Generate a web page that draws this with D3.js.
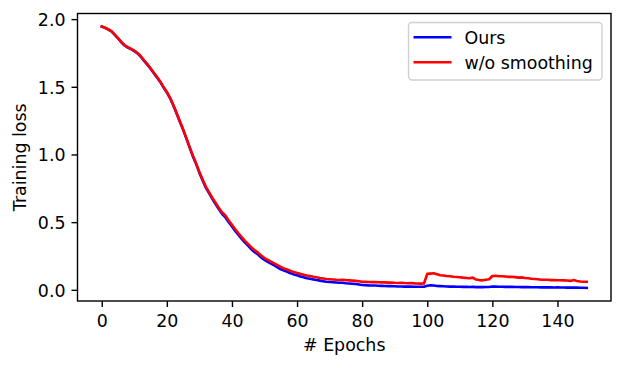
<!DOCTYPE html>
<html>
<head>
<meta charset="utf-8">
<script src="https://cdn.jsdelivr.net/npm/d3@7/dist/d3.min.js"></script>
<style>
  html, body { margin: 0; padding: 0; background: #fff; }
  svg { display: block; font-family: "DejaVu Sans", sans-serif; }
</style>
</head>
<body>
<svg id="chart" width="624" height="368"></svg>
<script>
const epochs = d3.range(0, 150);

const oursLoss = [
  1.945, 1.935, 1.923, 1.909, 1.884, 1.857, 1.829, 1.805, 1.790, 1.778,
  1.764, 1.747, 1.722, 1.692, 1.664, 1.633, 1.600, 1.568, 1.534, 1.494,
  1.458, 1.415, 1.362, 1.302, 1.242, 1.182, 1.117, 1.051, 0.986, 0.929,
  0.864, 0.808, 0.753, 0.712, 0.670, 0.632, 0.595, 0.560, 0.535, 0.500,
  0.468, 0.435, 0.405, 0.377, 0.349, 0.325, 0.298, 0.278, 0.261, 0.238,
  0.221, 0.207, 0.193, 0.180, 0.166, 0.152, 0.142, 0.133, 0.123, 0.114,
  0.107, 0.099, 0.093, 0.086, 0.082, 0.077, 0.072, 0.068, 0.064, 0.060,
  0.058, 0.056, 0.054, 0.052, 0.052, 0.049, 0.047, 0.045, 0.043, 0.040,
  0.036, 0.035, 0.033, 0.032, 0.032, 0.030, 0.029, 0.028, 0.027, 0.027,
  0.026, 0.025, 0.025, 0.024, 0.024, 0.024, 0.023, 0.023, 0.023, 0.023,
  0.030, 0.034, 0.032, 0.028, 0.027, 0.026, 0.025, 0.024, 0.024, 0.023,
  0.023, 0.022, 0.022, 0.021, 0.022, 0.020, 0.020, 0.020, 0.021, 0.021,
  0.024, 0.024, 0.023, 0.023, 0.022, 0.022, 0.022, 0.021, 0.021, 0.020,
  0.020, 0.020, 0.019, 0.019, 0.019, 0.018, 0.018, 0.018, 0.018, 0.017,
  0.018, 0.017, 0.017, 0.016, 0.016, 0.017, 0.016, 0.015, 0.015, 0.014
];

const noSmoothLoss = [
  1.945, 1.936, 1.925, 1.911, 1.886, 1.860, 1.832, 1.809, 1.793, 1.781,
  1.767, 1.750, 1.726, 1.696, 1.668, 1.637, 1.604, 1.572, 1.538, 1.498,
  1.462, 1.419, 1.366, 1.306, 1.246, 1.186, 1.121, 1.056, 0.991, 0.934,
  0.870, 0.815, 0.761, 0.720, 0.679, 0.641, 0.604, 0.571, 0.549, 0.513,
  0.480, 0.448, 0.418, 0.390, 0.362, 0.338, 0.313, 0.292, 0.275, 0.253,
  0.235, 0.222, 0.208, 0.195, 0.182, 0.169, 0.158, 0.150, 0.140, 0.132,
  0.125, 0.118, 0.112, 0.106, 0.102, 0.097, 0.093, 0.088, 0.084, 0.080,
  0.078, 0.076, 0.074, 0.073, 0.075, 0.072, 0.070, 0.068, 0.066, 0.063,
  0.060, 0.060, 0.058, 0.057, 0.058, 0.056, 0.055, 0.055, 0.053, 0.054,
  0.052, 0.051, 0.052, 0.050, 0.049, 0.050, 0.048, 0.047, 0.046, 0.047,
  0.118, 0.120, 0.122, 0.115, 0.108, 0.106, 0.102, 0.100, 0.097, 0.095,
  0.093, 0.090, 0.088, 0.085, 0.090, 0.076, 0.072, 0.070, 0.075, 0.078,
  0.102, 0.104, 0.100, 0.100, 0.098, 0.096, 0.097, 0.094, 0.090, 0.092,
  0.088, 0.085, 0.082, 0.080, 0.078, 0.075, 0.074, 0.074, 0.072, 0.073,
  0.071, 0.071, 0.070, 0.069, 0.066, 0.072, 0.065, 0.062, 0.060, 0.060
];

const seriesNames = ["Ours", "w/o smoothing"];
const seriesColors = ["#0000ff", "#ff0000"];
const xTicks = [0, 20, 40, 60, 80, 100, 120, 140];
const yTicks = [0.0, 0.5, 1.0, 1.5, 2.0];
const xLabel = "# Epochs";
const yLabel = "Training loss";

const svg = d3.select("#chart");
const L = 77.5, R = 611, T = 13.5, B = 301;
const fs = 17.4;

// matplotlib-like 5% margins
const xExt = d3.extent(epochs);
const xPad = (xExt[1] - xExt[0]) * 0.05;
const allY = oursLoss.concat(noSmoothLoss);
const yExt = d3.extent(allY);
const yPad = (yExt[1] - yExt[0]) * 0.05;

const x = d3.scaleLinear().domain([xExt[0] - xPad, xExt[1] + xPad]).range([L, R]);
const y = d3.scaleLinear().domain([yExt[0] - yPad, yExt[1] + yPad]).range([B, T]);

const clipId = "plotclip";
svg.append("defs").append("clipPath").attr("id", clipId)
  .append("rect").attr("x", L).attr("y", T).attr("width", R - L).attr("height", B - T);

const line = d3.line().x((d, i) => x(epochs[i])).y(d => y(d));

const series = [oursLoss, noSmoothLoss];
const g = svg.append("g").attr("clip-path", `url(#${clipId})`);
series.forEach((s, k) => {
  g.append("path").datum(s)
    .attr("d", line)
    .attr("fill", "none")
    .attr("stroke", seriesColors[k])
    .attr("stroke-width", 2.6)
    .attr("stroke-linejoin", "round")
    .attr("stroke-linecap", "square");
});

// axes
const xAxis = d3.axisBottom(x).tickValues(xTicks).tickSizeOuter(0).tickSizeInner(6).tickPadding(6).tickFormat(d3.format("d"));
const yAxis = d3.axisLeft(y).tickValues(yTicks).tickSizeOuter(0).tickSizeInner(6).tickPadding(6).tickFormat(d3.format(".1f"));

const gx = svg.append("g").attr("transform", `translate(0,${B})`).call(xAxis);
const gy = svg.append("g").attr("transform", `translate(${L},0)`).call(yAxis);
[gx, gy].forEach(a => {
  a.select(".domain").remove();
  a.selectAll(".tick line").attr("stroke", "#000").attr("stroke-width", 1.4);
  a.selectAll(".tick text").attr("fill", "#000").attr("font-size", fs).attr("font-family", "DejaVu Sans");
});
gx.selectAll(".tick text").attr("dy", null).attr("y", 26);
gy.selectAll(".tick text").attr("dy", "0.36em");

// spines
svg.append("rect").attr("x", L).attr("y", T).attr("width", R - L).attr("height", B - T)
  .attr("fill", "none").attr("stroke", "#000").attr("stroke-width", 1.4);

// labels
svg.append("text").attr("x", (L + R) / 2).attr("y", 351).attr("text-anchor", "middle")
  .attr("font-size", fs).attr("fill", "#000").text(xLabel);
svg.append("text").attr("transform", `translate(26,${(T + B) / 2}) rotate(-90)`)
  .attr("text-anchor", "middle").attr("font-size", fs).attr("fill", "#000").text(yLabel);

// legend
const lg = svg.append("g");
lg.append("rect").attr("x", 408.5).attr("y", 22.5).attr("width", 193.5).attr("height", 57.5)
  .attr("rx", 3.5).attr("fill", "#fff").attr("fill-opacity", 0.8)
  .attr("stroke", "#d0d0d0").attr("stroke-width", 1.4);
seriesNames.forEach((n, k) => {
  const yy = 37.3 + k * 25;
  lg.append("line").attr("x1", 413.5).attr("x2", 451.5).attr("y1", yy).attr("y2", yy)
    .attr("stroke", seriesColors[k]).attr("stroke-width", 2.6);
  lg.append("text").attr("x", 464.5).attr("y", yy).attr("dy", "0.36em")
    .attr("font-size", fs).attr("fill", "#000").text(n);
});
</script>
</body>
</html>
